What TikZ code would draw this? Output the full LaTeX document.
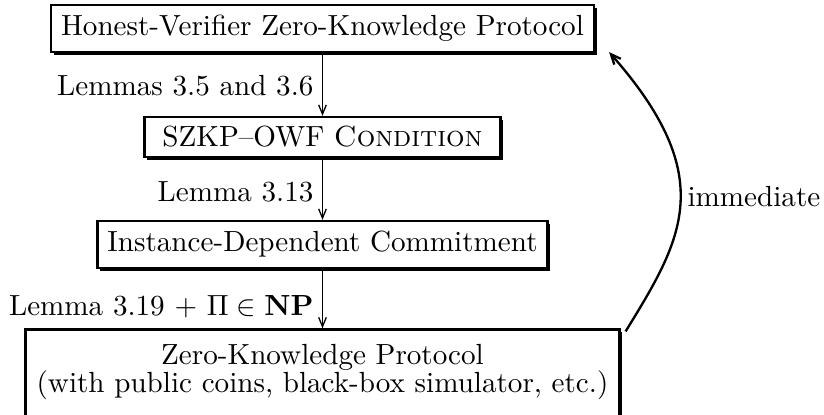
\documentclass[tikz,border=0pt]{standalone}
\usetikzlibrary{arrows.meta,shadows,calc}
\def\upx{0.3433pt}
\begin{document}
\begin{tikzpicture}[x=0.3433pt,y=-0.3433pt,
  box/.style={draw, line width=0.75pt, fill=white, inner sep=0pt,
    drop shadow={shadow xshift=0.9pt, shadow yshift=-0.9pt, opacity=1, fill=black}},
  lab/.style={inner sep=0pt},
  arr/.style={line width=0.45pt, -{Straight Barb[length=3.2pt,width=2.6pt]}},
  carr/.style={line width=0.8pt, -{Straight Barb[length=3.4pt,width=3pt]}}]
\useasboundingbox (0,0) rectangle (824,414);
\clip (0,0) rectangle (824,414);
\node[box, minimum width={543*\upx}, minimum height={47*\upx}] (hv) at (322.5,28.5) {Honest-Verifier Zero-Knowledge Protocol};
\node[box, minimum width={356*\upx}, minimum height={40*\upx}] (sz) at (322.5,137) {SZKP--OWF \textsc{Condition}};
\node[box, minimum width={450*\upx}, minimum height={47*\upx}] (id) at (322.5,244.5) {Instance-Dependent Commitment};
\node[box, minimum width={594*\upx}, minimum height={100*\upx}] (zk) at (322.5,379.5) {};
\node[lab, align=center] (zkt) at (322.5,372.5) {Zero-Knowledge Protocol\\[-2.4pt](with public coins, black-box simulator, etc.)};
\node[lab, anchor=base east] (l1) at (314,95) {Lemmas 3.5 and 3.6};
\node[lab, anchor=base east] (l2) at (314,201.5) {Lemma 3.13};
\node[lab, anchor=base east] (l3) at (314,315.5) {Lemma 3.19 $+$ $\Pi\in\mathbf{NP}$};
\node[lab, anchor=base west] (im) at (687,206) {immediate};
\draw[arr] (hv.south) -- (sz.north);
\draw[arr] (sz.south) -- (id.north);
\draw[arr] (id.south) -- (zk.north);
\draw[carr] ($(zk.north east)+(5,3)$) .. controls (682,239.5) and (720,178) .. ($(hv.south east)+(14,-1)$);
\end{tikzpicture}
\end{document}
